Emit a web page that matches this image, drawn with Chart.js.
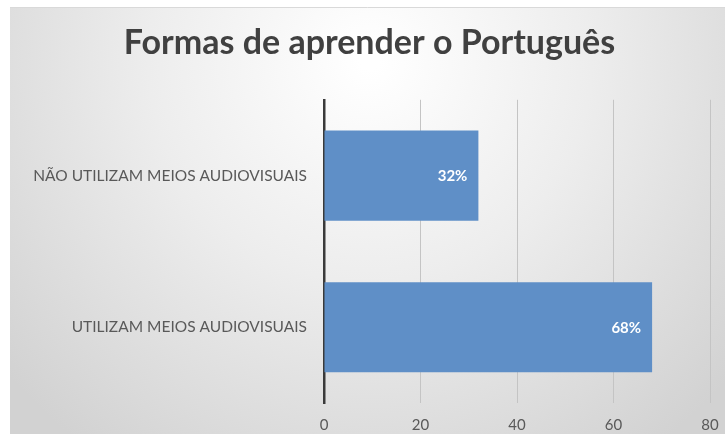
<!DOCTYPE html>
<html>
<head>
<meta charset="utf-8">
<script src="https://cdn.jsdelivr.net/npm/chart.js@4"></script>
<style>
  html, body { margin: 0; padding: 0; background: #fff; }
  #wrap { width: 725px; height: 434px; }
</style>
</head>
<body>
<div id="wrap"><canvas id="chart" width="725" height="434"></canvas></div>
<script>
const categories = ['NÃO UTILIZAM MEIOS AUDIOVISUAIS', 'UTILIZAM MEIOS AUDIOVISUAIS'];
const values = [32, 68];
const valueLabels = ['32%', '68%'];
const xTicks = [0, 20, 40, 60, 80];

// grey gradient backdrop, white in the upper middle
const backdrop = {
    id: 'backdrop',
    beforeDraw(chart) {
        const ctx = chart.ctx;
        ctx.save();
        ctx.fillStyle = '#ffffff';
        ctx.fillRect(0, 0, chart.width, chart.height);
        const g = ctx.createRadialGradient(370, 60, 10, 370, 60, 480);
        g.addColorStop(0, '#ffffff');
        g.addColorStop(0.45, '#ededed');
        g.addColorStop(1, '#d2d2d2');
        ctx.fillStyle = g;
        ctx.fillRect(10, 7, chart.width - 10, chart.height - 7);
        ctx.strokeStyle = '#d9d9d9';
        ctx.lineWidth = 1;
        ctx.beginPath();
        ctx.moveTo(10, 7.5);
        ctx.lineTo(chart.width, 7.5);
        ctx.stroke();
        ctx.restore();
    }
};

// value labels inside the end of each bar
const barLabels = {
    id: 'barLabels',
    afterDatasetsDraw(chart) {
        const ctx = chart.ctx;
        const meta = chart.getDatasetMeta(0);
        ctx.save();
        ctx.fillStyle = '#ffffff';
        ctx.font = 'bold 15px Lato';
        ctx.textAlign = 'right';
        ctx.textBaseline = 'middle';
        meta.data.forEach((bar, i) => {
            ctx.fillText(valueLabels[i], bar.x - 11, bar.y + 1);
        });
        ctx.restore();
    }
};

new Chart(document.getElementById('chart'), {
    type: 'bar',
    data: {
        labels: categories,
        datasets: [{
            data: values,
            backgroundColor: '#5f8fc7',
            borderWidth: 0,
            categoryPercentage: 1,
            barPercentage: 0.594
        }]
    },
    options: {
        indexAxis: 'y',
        responsive: false,
        animation: false,
        layout: { padding: { left: 14, right: 0, top: 0, bottom: 0 } },
        plugins: {
            legend: { display: false },
            tooltip: { enabled: false },
            title: {
                display: true,
                text: 'Formas de aprender o Português',
                color: '#404040',
                font: { family: 'Lato', size: 34, weight: 'bold' },
                padding: { top: 23, bottom: 36 }
            }
        },
        scales: {
            x: {
                min: 0,
                max: 80,
                afterBuildTicks(scale) {
                    scale.ticks = xTicks.map(v => ({ value: v }));
                },
                afterFit(scale) {
                    scale.height = 31;
                    scale.paddingRight = 15;
                },
                grid: { color: '#c4c4c4', lineWidth: 1, drawTicks: false },
                border: { display: false },
                ticks: {
                    color: '#595959',
                    font: { family: 'Lato', size: 15 },
                    padding: 13
                }
            },
            y: {
                afterFit(scale) { scale.width = 310; },
                grid: { display: false, drawTicks: false },
                border: { display: true, color: '#3a3a3a', width: 2.5 },
                ticks: {
                    color: '#595959',
                    font: { family: 'Lato', size: 15.5 },
                    padding: 17
                }
            }
        }
    },
    plugins: [backdrop, barLabels]
});
</script>
</body>
</html>
